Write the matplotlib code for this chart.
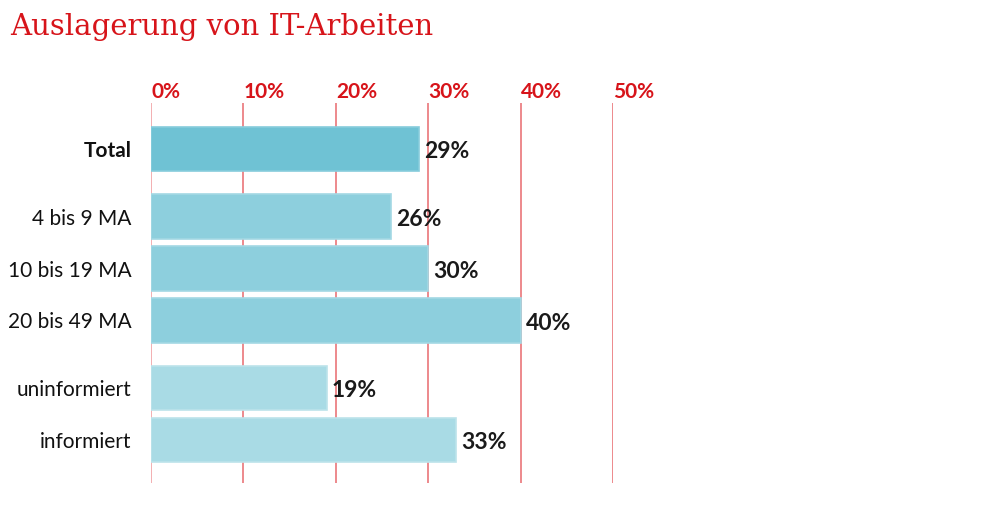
import numpy as np
import matplotlib
matplotlib.use("Agg")
import matplotlib.pyplot as plt

# data
labels = ["Total", "4 bis 9 MA", "10 bis 19 MA", "20 bis 49 MA", "uninformiert", "informiert"]
values = [29, 26, 30, 40, 19, 33]
groups = [1, 3, 2]          # bars per group
ticks = [0, 10, 20, 30, 40, 50]

red = "#D7141A"
grid_red = "#E86A6E"
fills = ["#6FC2D4", "#8DCFDD", "#A9DBE5"]
edges = ["#86CCDC", "#A3D8E4", "#BCE3EA"]

# positions: 1 unit per bar, extra gap between groups
ypos = []
colors = []
ecolors = []
y = 0.0
for g, n in enumerate(groups):
    for i in range(n):
        ypos.append(y)
        colors.append(fills[g])
        ecolors.append(edges[g])
        y += 1.0
    y += 0.3
ypos = np.array(ypos)

plt.rcParams["font.family"] = ["Lato", "DejaVu Sans"]

fig = plt.figure(figsize=(9.99, 5.08), dpi=100)
ax = fig.add_axes([151/999, 1-483/508, (613-151)/999, 380/508])

ax.barh(ypos, values, height=0.85, color=colors, edgecolor=ecolors, linewidth=1.2, zorder=3)

for v, yy in zip(values, ypos):
    ax.annotate(f"{v}%", xy=(v, yy), xytext=(3.5, -2), textcoords="offset points",
                va="center", ha="left", fontsize=16.5, fontweight="bold", color="#1a1a1a")

ax.set_xlim(0, 50)
ax.set_ylim(ypos[-1] + 0.827, -0.885)

for t in ticks:
    ax.axvline(t, color="#F09A9C" if t == 0 else grid_red, linewidth=1.1, zorder=1)

ax.xaxis.tick_top()
ax.set_xticks(ticks)
ax.set_xticklabels([f"{t}%" for t in ticks], color=red, fontsize=15, fontweight="bold", ha="left")
ax.tick_params(axis="x", length=0, pad=1)

ax.set_yticks(ypos)
ax.set_yticklabels(labels, fontsize=15, color="#111111")
ax.get_yticklabels()[0].set_fontweight("bold")
ax.tick_params(axis="y", length=0, pad=14)

for s in ax.spines.values():
    s.set_visible(False)

fig.text(10/999, 1-27/508, "Auslagerung von IT-Arbeiten", fontsize=21, color=red,
         family="DejaVu Serif", va="center", ha="left")

fig.savefig("out.png", dpi=100)
